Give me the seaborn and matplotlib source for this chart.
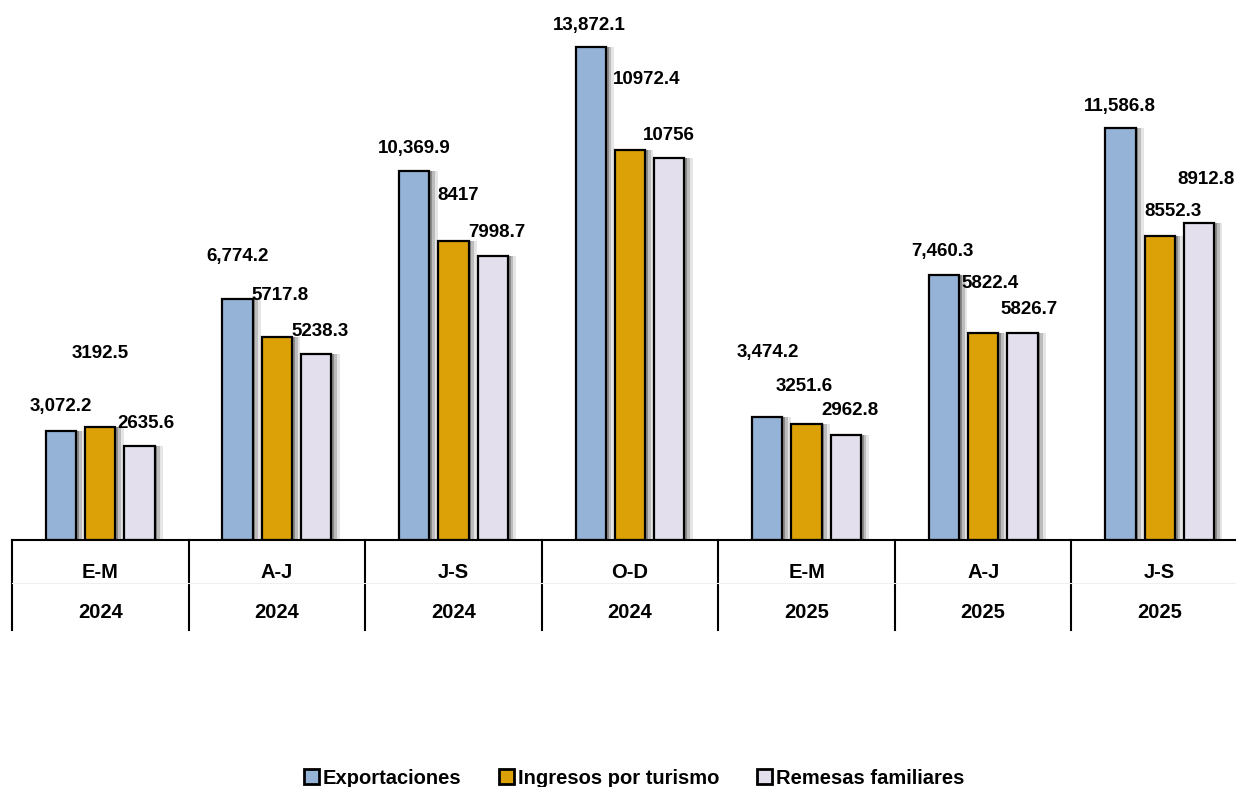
####################     importations     ####################
import numpy as np
import pandas as pd
import matplotlib
matplotlib.use('Agg')
import seaborn as sns
import matplotlib.pyplot as plt
import matplotlib.patheffects as pe
import matplotlib.transforms as mtrans


####################       données        ####################
periodos = ['E-M', 'A-J', 'J-S', 'O-D', 'E-M', 'A-J', 'J-S']
anios = ['2024', '2024', '2024', '2024', '2025', '2025', '2025']
series = ['Exportaciones', 'Ingresos por turismo', 'Remesas familiares']

exportaciones = [3072.2, 6774.2, 10369.9, 13872.1, 3474.2, 7460.3, 11586.8]
turismo = [3192.5, 5717.8, 8417.0, 10972.4, 3251.6, 5822.4, 8552.3]
remesas = [2635.6, 5238.3, 7998.7, 10756.0, 2962.8, 5826.7, 8912.8]

etiquetas_exp = ['3,072.2', '6,774.2', '10,369.9', '13,872.1', '3,474.2', '7,460.3', '11,586.8']
etiquetas_tur = ['3192.5', '5717.8', '8417', '10972.4', '3251.6', '5822.4', '8552.3']
etiquetas_rem = ['2635.6', '5238.3', '7998.7', '10756', '2962.8', '5826.7', '8912.8']

# style: décalage des étiquettes (pixels) par rapport au sommet de la barre
decal_exp = [(0, 24), (0, 43), (0, 23), (-1, 21), (0, 64), (-1, 23), (-1, 22)]
decal_tur = [(0, 73), (3, 41), (5, 45), (17, 71), (-2, 38), (7, 50), (13, 25)]
decal_rem = [(6, 23), (4, 22), (4, 23), (0, 22), (4, 24), (7, 23), (7, 44)]

couleurs = ['#95B3D7', '#DBA106', '#E4DFEC']

####################       tableau        ####################
cles = [f'{p}\n{a}' for p, a in zip(periodos, anios)]
df = pd.DataFrame({
    'cle': cles * 3,
    'serie': np.repeat(series, len(cles)),
    'valeur': exportaciones + turismo + remesas,
})

####################       figure        ####################
plt.rcParams['font.family'] = ['Liberation Sans', 'DejaVu Sans']
W, H = 1236, 787
fig = plt.figure(figsize=(W / 100, H / 100), dpi=100)
ax = fig.add_axes([12 / W, 247 / H, 1.0, 540 / H])

sns.barplot(data=df, x='cle', y='valeur', hue='serie', order=cles,
            hue_order=series, palette=couleurs, saturation=1,
            width=0.667, gap=0.23,
            edgecolor='black', linewidth=1.6, ax=ax, legend=True)

ax.set_xlim(-0.5, len(cles) - 0.5)
ax.set_ylim(0, 15194)
ax.set_xlabel('')
ax.set_ylabel('')
ax.set_xticks([])
ax.set_yticks([])
for s in ['left', 'top', 'right']:
    ax.spines[s].set_visible(False)
ax.spines['bottom'].set_linewidth(1.5)

# légende
leg = ax.get_legend()
handles = leg.legend_handles
for h in handles:
    h.set_linewidth(2)
leg.remove()
fig.legend(handles, series, loc='center', bbox_to_anchor=(634 / W, 1 - 778 / H),
           ncol=3, frameon=False, handlelength=0.75, handleheight=0.75,
           handletextpad=0.2, columnspacing=1.85,
           prop={'weight': 'bold', 'size': 14.5})

# ombres + étiquettes
etiquettes = [etiquetas_exp, etiquetas_tur, etiquetas_rem]
decalages = [decal_exp, decal_tur, decal_rem]
for cont, labs, decs in zip(ax.containers, etiquettes, decalages):
    for barre, lab, (dx, dy) in zip(cont, labs, decs):
        barre.set_path_effects([
            pe.SimplePatchShadow(offset=(6, 0), shadow_rgbFace=(0.6, 0.6, 0.6), alpha=0.25),
            pe.SimplePatchShadow(offset=(4, 0), shadow_rgbFace=(0.5, 0.5, 0.5), alpha=0.4),
            pe.SimplePatchShadow(offset=(2, 0), shadow_rgbFace=(0.4, 0.4, 0.4), alpha=0.6),
            pe.Normal()])
        xc = barre.get_x() + barre.get_width() / 2
        ax.annotate(lab, (xc, barre.get_height()), xytext=(dx, dy),
                    textcoords='offset pixels', ha='center', va='center',
                    fontsize=13.5, fontweight='bold')

# tableau des catégories sous l'axe
tr = mtrans.blended_transform_factory(ax.transData, ax.transAxes)
bas = -90 / 540
for k in range(len(cles) + 1):
    ax.plot([k - 0.5, k - 0.5], [0, bas], color='black', lw=1.5,
            transform=tr, clip_on=False)
ax.plot([-0.5, len(cles) - 0.5], [-43 / 540, -43 / 540], color='#F0F0F0',
        lw=0.8, transform=tr, clip_on=False)
for k, (p, a) in enumerate(zip(periodos, anios)):
    ax.text(k, -33 / 540, p, transform=tr, ha='center', va='center',
            fontsize=14.5, fontweight='bold')
    ax.text(k, -73 / 540, a, transform=tr, ha='center', va='center',
            fontsize=14.5, fontweight='bold')

plt.savefig('out.png', dpi=100)
plt.close()
